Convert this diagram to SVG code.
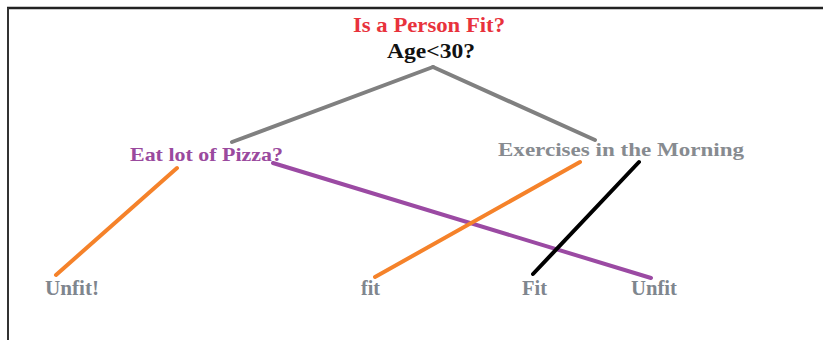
<svg xmlns="http://www.w3.org/2000/svg" width="823" height="340" viewBox="0 0 823 340">
<style>
text{font-family:"Liberation Serif","Times New Roman",serif;font-weight:bold}
.t{fill:#e8323c;font-size:21px}
.q{fill:#111;font-size:21px}
.p{fill:#9a4a9e;font-size:19px}
.g{fill:#878b90;font-size:19px}
.l{fill:#7f868e;font-size:20px}
.c{fill:none;stroke-linecap:round;stroke-width:4}
</style>
<rect width="823" height="340" fill="#fff"/>
<g id="frame">
<line x1="7" y1="8" x2="823" y2="8" stroke="#222" stroke-width="2.5"/>
<line x1="8" y1="8" x2="8" y2="340" stroke="#333" stroke-width="2"/>
</g>
<g id="connectors">
<line class="c" x1="433" y1="67" x2="232" y2="142" stroke="#808080"/>
<line class="c" x1="433" y1="67" x2="595" y2="140" stroke="#808080"/>
<line class="c" x1="177" y1="168" x2="56" y2="275" stroke="#f5822a"/>
<line class="c" x1="273" y1="163" x2="651" y2="278" stroke="#9b4aa3" stroke-width="3.5"/>
<line class="c" x1="580" y1="162" x2="375" y2="277" stroke="#f5822a"/>
<line class="c" x1="639" y1="162" x2="533" y2="274" stroke="#000"/>
</g>
<g id="title"><text class="t" x="353" y="32" textLength="152" lengthAdjust="spacingAndGlyphs">Is a Person Fit?</text></g>
<g id="root"><text class="q" x="387" y="58" textLength="88" lengthAdjust="spacingAndGlyphs">Age&lt;30?</text></g>
<g id="pizza"><text class="p" x="130" y="161" textLength="153" lengthAdjust="spacingAndGlyphs">Eat lot of Pizza?</text></g>
<g id="exercise"><text class="g" x="498" y="156" textLength="246" lengthAdjust="spacingAndGlyphs">Exercises in the Morning</text></g>
<g id="leaf-unfit1"><text class="l" x="45" y="295" textLength="54" lengthAdjust="spacingAndGlyphs">Unfit!</text></g>
<g id="leaf-fit1"><text class="l" x="361" y="295" textLength="19" lengthAdjust="spacingAndGlyphs">fit</text></g>
<g id="leaf-fit2"><text class="l" x="522" y="295" textLength="25" lengthAdjust="spacingAndGlyphs">Fit</text></g>
<g id="leaf-unfit2"><text class="l" x="631" y="295" textLength="46" lengthAdjust="spacingAndGlyphs">Unfit</text></g>
</svg>
